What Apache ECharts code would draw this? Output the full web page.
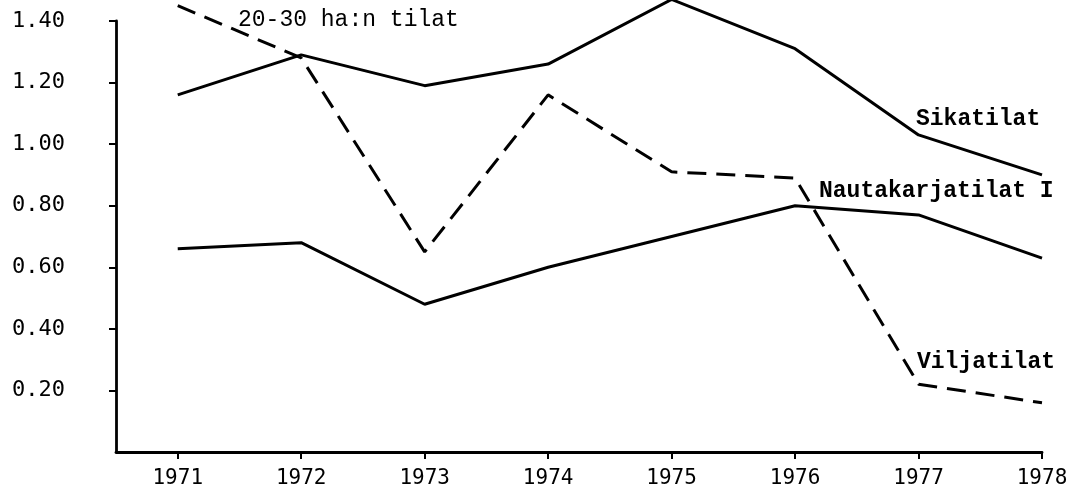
<!DOCTYPE html>
<html>
<head>
<meta charset="utf-8">
<script src="https://cdn.jsdelivr.net/npm/echarts@6/dist/echarts.min.js"></script>
<style>
  html, body { margin: 0; padding: 0; background: #fff; }
  #chart { width: 1082px; height: 489px; }
</style>
</head>
<body>
<div id="chart"></div>
<script>
// Data
const years = [1971, 1972, 1973, 1974, 1975, 1976, 1977, 1978];
const yTicks = [0.2, 0.4, 0.6, 0.8, 1.0, 1.2, 1.4];
const sikatilat = [1.16, 1.29, 1.19, 1.26, 1.47, 1.31, 1.03, 0.90];
const nautakarjatilat = [0.66, 0.68, 0.48, 0.60, 0.70, 0.80, 0.77, 0.63];
const viljatilat = [1.45, 1.28, 0.65, 1.16, 0.91, 0.89, 0.22, 0.16];

const labelTexts = {
  small: '20-30 ha:n tilat',
  sika: 'Sikatilat',
  nauta: 'Nautakarjatilat I',
  vilja: 'Viljatilat'
};

const pairs = arr => years.map((y, i) => [y, arr[i]]);
const mono = '"DejaVu Sans Mono", "Liberation Mono", monospace';
const mono2 = '"Liberation Mono", "DejaVu Sans Mono", monospace';

const chart = echarts.init(document.getElementById('chart'), null, { renderer: 'canvas' });

chart.setOption({
  animation: false,
  backgroundColor: '#fff',
  grid: { left: 116, right: 40, top: 21, bottom: 37, containLabel: false },
  xAxis: {
    type: 'value',
    min: 1970.5,
    max: 1978,
    splitLine: { show: false },
    axisLine: { show: true, lineStyle: { color: '#000', width: 2.8 } },
    axisTick: { show: true, inside: false, length: 7, customValues: years, lineStyle: { color: '#000', width: 2 } },
    axisLabel: {
      customValues: years,
      formatter: v => String(Math.round(v)),
      color: '#000', fontFamily: mono, fontSize: 21, margin: 16
    }
  },
  yAxis: {
    type: 'value',
    min: 0,
    max: 1.4,
    splitLine: { show: false },
    axisLine: { show: true, lineStyle: { color: '#000', width: 2.8 } },
    axisTick: { show: true, inside: false, length: 7, customValues: yTicks, lineStyle: { color: '#000', width: 2 } },
    axisLabel: {
      customValues: yTicks,
      formatter: v => v.toFixed(2),
      color: '#000', fontFamily: mono, fontSize: 22, margin: 51
    }
  },
  series: [
    {
      name: 'Sikatilat', type: 'line', data: pairs(sikatilat), clip: false,
      symbol: 'none', lineStyle: { color: '#000', width: 3 }
    },
    {
      name: 'Nautakarjatilat I', type: 'line', data: pairs(nautakarjatilat), clip: false,
      symbol: 'none', lineStyle: { color: '#000', width: 3 }
    },
    {
      name: 'Viljatilat', type: 'line', data: pairs(viljatilat), clip: false,
      symbol: 'none', lineStyle: { color: '#000', width: 3, type: [19, 10] }
    }
  ],
  graphic: [
    { type: 'text', left: 238, top: 8, style: { text: labelTexts.small, font: '23px ' + mono2, fill: '#000' } },
    { type: 'text', left: 916, top: 108, style: { text: labelTexts.sika, font: 'bold 23px ' + mono2, fill: '#000' } },
    { type: 'text', left: 819, top: 180, style: { text: labelTexts.nauta, font: 'bold 23px ' + mono2, fill: '#000' } },
    { type: 'text', left: 917, top: 351, style: { text: labelTexts.vilja, font: 'bold 23px ' + mono2, fill: '#000' } }
  ]
});
</script>
</body>
</html>
